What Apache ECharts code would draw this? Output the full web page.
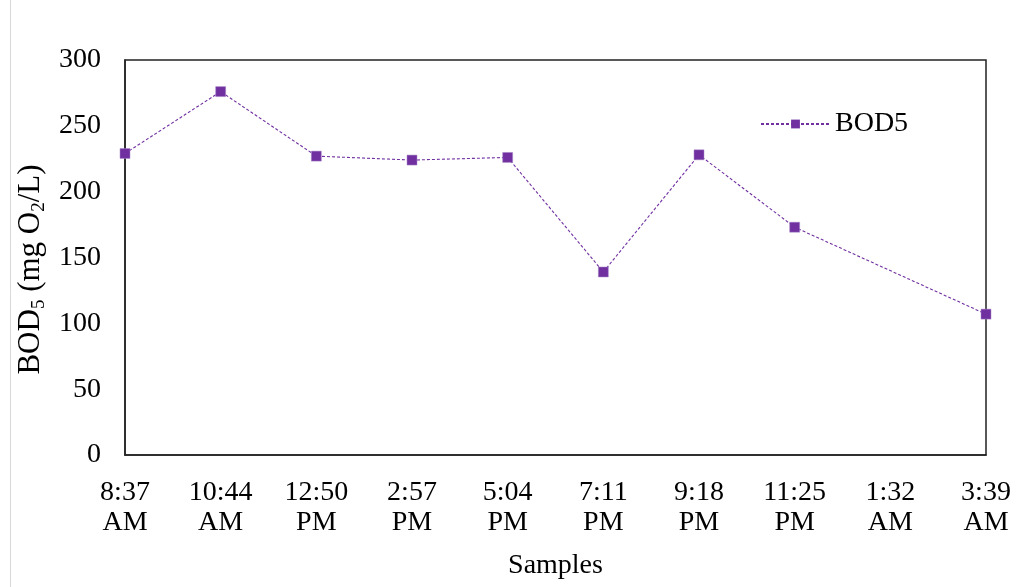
<!DOCTYPE html>
<html>
<head>
<meta charset="utf-8">
<script src="https://cdn.jsdelivr.net/npm/echarts@6/dist/echarts.min.js"></script>
<style>
  html, body { margin: 0; padding: 0; background: #fff; }
  #chart { width: 1029px; height: 587px; }
</style>
</head>
<body>
<div id="chart"></div>
<script>
// Sampling times (axis ticks) and measured BOD5 values; 1:32 AM has no sample
const sampleTimes = ['8:37\nAM', '10:44\nAM', '12:50\nPM', '2:57\nPM', '5:04\nPM', '7:11\nPM', '9:18\nPM', '11:25\nPM', '1:32\nAM', '3:39\nAM'];
const bod5Values = [229, 276, 227, 224, 226, 139, 228, 173, null, 107];
const yTicks = { min: 0, max: 300, interval: 50 };

const serif = '"Liberation Serif", "Times New Roman", serif';
const purple = '#7030A0';
const fs = 28;

const chart = echarts.init(document.getElementById('chart'), null, { renderer: 'canvas' });
chart.setOption({
  animation: false,
  backgroundColor: '#fff',
  textStyle: { fontFamily: serif, color: '#000' },
  grid: {
    left: 125, right: 43, top: 60, bottom: 132,
    show: true, borderColor: '#222', borderWidth: 1.5
  },
  legend: {
    data: ['BOD5'],
    left: 755, top: 105,
    itemWidth: 69, itemHeight: 11, itemGap: 7,
    itemStyle: { color: purple, borderWidth: 0 },
    textStyle: { fontFamily: serif, fontSize: fs, color: '#000' }
  },
  graphic: [{
    type: 'line', shape: { x1: 10.5, y1: 0, x2: 10.5, y2: 587 },
    style: { stroke: '#d9d9d9', lineWidth: 1 }
  }],
  xAxis: {
    type: 'category',
    data: sampleTimes,
    boundaryGap: false,
    name: 'Samples',
    nameLocation: 'middle',
    nameGap: 97,
    nameTextStyle: { fontFamily: serif, fontSize: fs, color: '#000' },
    axisLine: { lineStyle: { color: '#222', width: 1.5 } },
    axisTick: { show: false },
    axisLabel: {
      interval: 0, margin: 23, fontFamily: serif, fontSize: fs,
      color: '#000', lineHeight: 30
    },
    splitLine: { show: false }
  },
  yAxis: {
    type: 'value',
    min: yTicks.min, max: yTicks.max, interval: yTicks.interval,
    name: 'BOD{sub|5} (mg O{sub|2}/L)',
    nameLocation: 'middle',
    nameRotate: 90,
    nameGap: 66,
    nameTextStyle: {
      fontFamily: serif, fontSize: 31, color: '#000',
      padding: [0, 24, 0, 0],
      rich: {
        sub: { fontFamily: serif, fontSize: 19, color: '#000', padding: [16, 0, 0, 0] }
      }
    },
    axisLine: { show: true, lineStyle: { color: '#222', width: 1.5 } },
    axisTick: { show: false },
    axisLabel: { margin: 24, fontFamily: serif, fontSize: fs, color: '#000' },
    splitLine: { show: false }
  },
  series: [{
    name: 'BOD5',
    type: 'line',
    data: bod5Values,
    connectNulls: true,
    symbol: 'rect',
    symbolSize: 10,
    itemStyle: { color: purple, borderColor: '#a98bc9', borderWidth: 0.5 },
    lineStyle: { color: purple, width: 1.1, type: [3, 2] }
  }]
});
</script>
</body>
</html>
